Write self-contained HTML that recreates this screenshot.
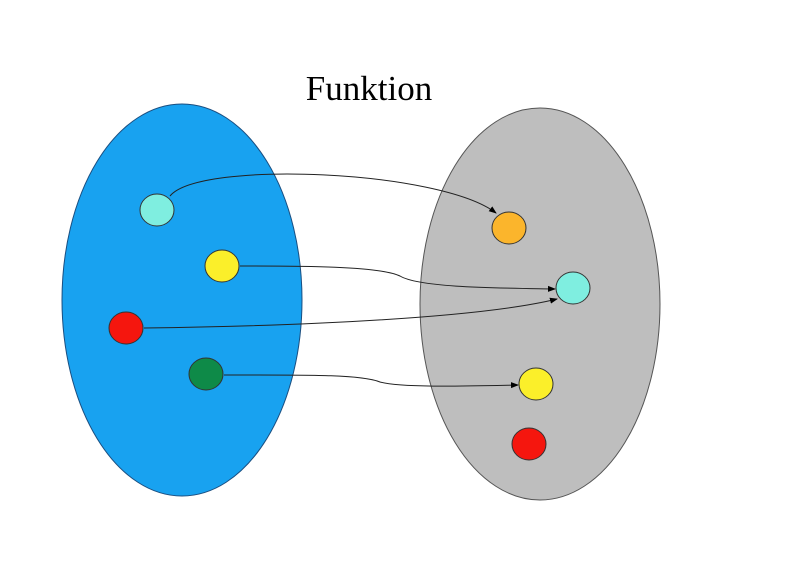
<!DOCTYPE html>
<html><head><meta charset="utf-8">
<style>
html,body{margin:0;padding:0;background:#fff;}
svg{display:block;}
</style></head>
<body>
<svg id="diagram" width="800" height="562" viewBox="0 0 800 562" xmlns="http://www.w3.org/2000/svg">
<defs>
<marker id="arr" markerWidth="8" markerHeight="8" refX="7" refY="4" orient="auto" markerUnits="userSpaceOnUse">
<path d="M0,1 L8,4 L0,7 Z" fill="#000"/>
</marker>
</defs>
<rect width="800" height="562" fill="#fff"/>
<text x="369" y="100" text-anchor="middle" font-family="'Liberation Serif', serif" font-size="35" fill="#000">Funktion</text>
<ellipse cx="182" cy="300" rx="120" ry="196" fill="#18a2f0" stroke="#1a4e80" stroke-width="1"/>
<ellipse cx="540" cy="304" rx="120" ry="196" fill="#bebebe" stroke="#555" stroke-width="1"/>
<g id="arrows"></g>
<g id="dots"></g>
</svg>
<script>
const dotNames = ['domain-cyan','domain-yellow','domain-red','domain-green','codomain-orange','codomain-cyan','codomain-yellow','codomain-red'];
const dotX = [157,222,126,206,509,573,536,529];
const dotY = [210,266,328,374,228,288,384,444];
const dotColors = ['#7feee0','#fbef2a','#f5160e','#0e8a48','#fbb52c','#7feee0','#fbef2a','#f5160e'];
const arrowFrom = [0,1,2,3];
const arrowTo = [4,5,5,6];
const arrowPaths = [
 'M170,196 C200,160 440,170 496,213',
 'M240,266 C300,266 380,266 400,276 C420,288 500,288 555,289',
 'M144,328 C300,326 480,318 557,299',
 'M224,375 C300,375 360,374 380,382 C400,388 470,386 518,385'
];
const NS='http://www.w3.org/2000/svg';
const ag=document.getElementById('arrows');
arrowPaths.forEach((d,i)=>{
 const p=document.createElementNS(NS,'path');
 p.setAttribute('d',d);
 p.setAttribute('fill','none');
 p.setAttribute('stroke','#222');
 p.setAttribute('stroke-width','1');
 p.setAttribute('marker-end','url(#arr)');
 
 
 ag.appendChild(p);
});
const dg=document.getElementById('dots');
dotX.forEach((x,i)=>{
 const e=document.createElementNS(NS,'ellipse');
 e.setAttribute('cx',x);e.setAttribute('cy',dotY[i]);
 e.setAttribute('rx',17);e.setAttribute('ry',16);
 e.setAttribute('fill',dotColors[i]);
 e.setAttribute('stroke','#333');e.setAttribute('stroke-width','1');
 
 
 dg.appendChild(e);
});
</script>
</body></html>
